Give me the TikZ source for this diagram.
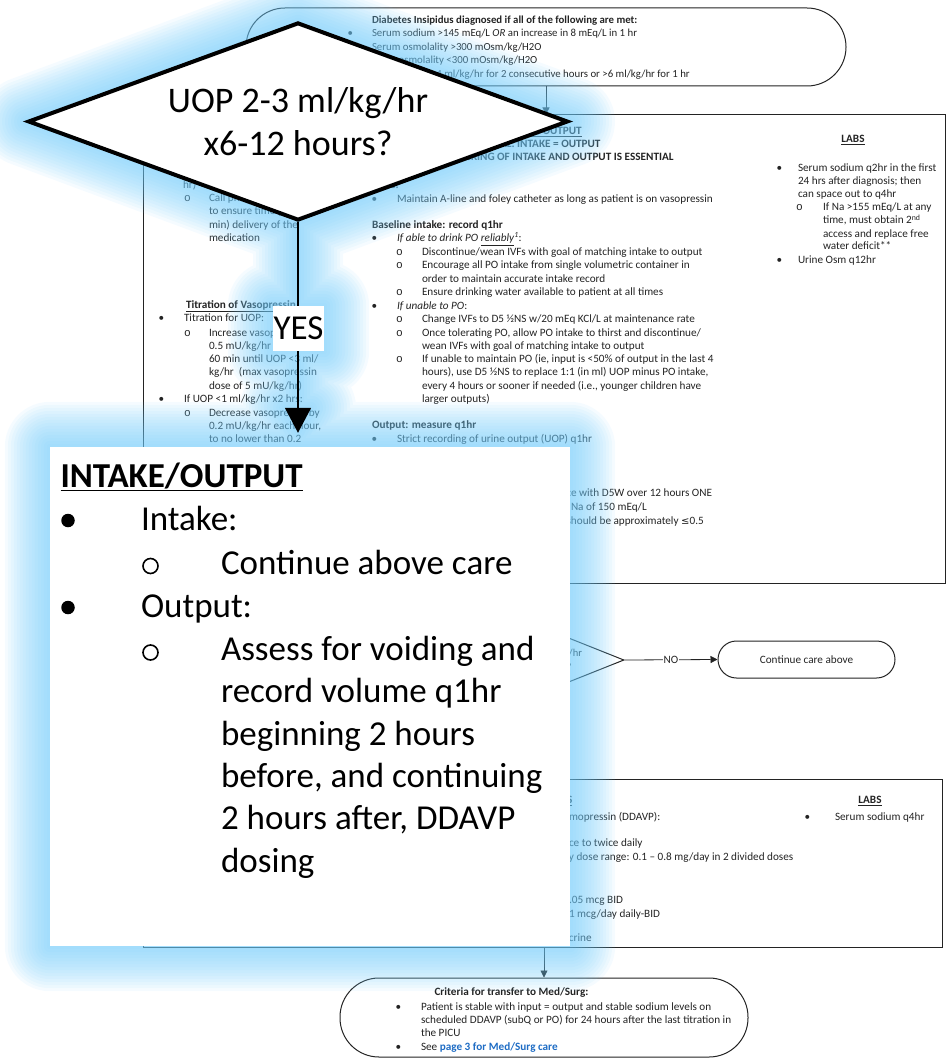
\documentclass[tikz,border=0pt]{standalone}
\usepackage{fontspec}
\setmainfont{Carlito}
\newfontfamily\cour{Liberation Mono}
\newfontfamily\djv{DejaVu Sans}
\usetikzlibrary{arrows.meta,shapes.geometric,calc}
\definecolor{ink}{RGB}{35,35,35}
\definecolor{glowblue}{RGB}{112,202,250}
\definecolor{linkblue}{RGB}{30,108,196}
\pgfdeclarelayer{under}
\pgfdeclarelayer{haze}
\pgfsetlayers{under,haze,main}

\newcommand\sm{\fontsize{11.2}{13.5}\selectfont}
\newcommand\smtop{\fontsize{10.8}{13.5}\selectfont}
\newcommand\bigtxt{\fontsize{35}{42}\selectfont}
\newcounter{tl}
% one line of text, placed by its baseline
\newcommand\tx[4][txt]{\stepcounter{tl}\node[#1] (t\arabic{tl}) at (#2,#3) {#4};}
\newcommand\bul[2]{\tx{#1}{#2}{•}}
\newcommand\subring[2]{\tx{#1}{#2}{\cour o}}

\tikzset{
  txt/.style={anchor=base west, inner sep=0, outer sep=0, text=ink, font=\sm},
  ttop/.style={txt, font=\smtop},
  txtc/.style={txt, anchor=base},
  bigt/.style={txt, text=black, font=\bigtxt},
  box/.style={draw=ink, line width=1},
  flow/.style={draw=ink, line width=0.8, -{Triangle[length=7pt,width=7pt]}},
}

\begin{document}
\begin{tikzpicture}[x=1pt,y=-1pt]
\useasboundingbox (0,0) rectangle (947,1059);

% ---------------- flowchart ----------------
\begin{pgfonlayer}{under}
\node[box, rounded corners=39, minimum width=600, minimum height=78] (dx) at (546,47) {};
\node[box, minimum width=802, minimum height=468] (mainbox) at (544,349) {};
\node[box, diamond, aspect=2.5, minimum width=160, minimum height=64, inner sep=0,
      align=center, font=\fontsize{10.5}{14}\selectfont, text=ink] (q) at (544,660)
      {UOP 2-3 ml/kg/hr\\x6-12 hours?};
\node[box, rounded corners=18.5, minimum width=177, minimum height=37, font=\sm, text=ink]
      (cont) at (806.5,659.5) {Continue care above};
\node[box, minimum width=799, minimum height=168] (lowbox) at (542.5,863) {};
\node[box, rounded corners=39, minimum width=408, minimum height=79] (crit) at (544,1017.5) {};

\draw[flow] (dx.south) -- (dx.south |- mainbox.north);
\draw[flow] (mainbox.south) -- (q.north);
\draw[flow] (q.east) -- node[fill=white, inner sep=1, font=\sm, text=ink] (nolbl) {NO} (cont.west);
\draw[flow] (q.south) -- (q.south |- lowbox.north);
\draw[flow] (crit.north |- lowbox.south) -- (crit.north);

% diagnosis criteria
\tx[ttop]{372}{23.5}{\textbf{Diabetes Insipidus diagnosed if all of the following are met:}}
\tx[ttop]{347.5}{37}{•}  \tx[ttop]{372}{37}{Serum sodium >145 mEq/L \textit{OR} an increase in 8 mEq/L in 1 hr}
\tx[ttop]{347.5}{50.5}{•}\tx[ttop]{372}{50.5}{Serum osmolality >300 mOsm/kg/H2O}
\tx[ttop]{347.5}{64}{•}  \tx[ttop]{372}{64}{Urine osmolality <300 mOsm/kg/H2O}
\tx[ttop]{347.5}{77.5}{•}\tx[ttop]{372}{77.5}{Urine output >4 ml/kg/hr for 2 consecutive hours or >6 ml/kg/hr for 1 hr}

% vasopressin column
\tx{183}{188.5}{hr)}
\subring{184}{201.5}\tx{209}{201.5}{Call pharmacy}
\tx{209}{214.5}{to ensure timely}
\tx{209}{228.5}{min) delivery of the}
\tx{209}{242}{medication}
\tx{186}{308.5}{\textbf{\underline{Titration of Vasopressin}}}
\bul{158.5}{321.5}\tx{184}{321.5}{Titration for UOP:}
\subring{184}{336.5}\tx{209}{336.5}{Increase vasopressin by}
\tx{209}{349.5}{0.5 mU/kg/hr every 30-}
\tx{209}{362.5}{60 min until UOP <3 ml/}
\tx{209}{375.5}{kg/hr\ \ (max vasopressin}
\tx{209}{389.5}{dose of 5 mU/kg/hr)}
\bul{158.5}{402.5}\tx{184}{402.5}{If UOP <1 ml/kg/hr x2 hrs:}
\subring{184}{416.5}\tx{209}{416.5}{Decrease vasopressin by}
\tx{209}{429.5}{0.2 mU/kg/hr each hour,}
\tx{209}{442.5}{to no lower than 0.2}

% intake / output column
\tx[txtc]{543}{134.5}{\textbf{\underline{INTAKE/OUTPUT}}}
\tx[txtc]{543}{147.5}{\textbf{GOAL: INTAKE = OUTPUT}}
\tx[txtc]{543}{160.5}{\textbf{STRICT TRACKING OF INTAKE AND OUTPUT IS ESSENTIAL}}
\tx{372}{188.5}{\textbf{Lines:}}
\bul{371.5}{202.5}\tx{397}{202.5}{Maintain A-line and foley catheter as long as patient is on vasopressin}
\tx{372}{228.5}{\textbf{Baseline intake: record q1hr}}
\bul{371.5}{241.5}\tx{397}{241.5}{\textit{If able to drink PO \underline{reliably}\textsuperscript{1}}:}
\subring{396}{255.5}\tx{422}{255.5}{Discontinue/wean IVFs with goal of matching intake to output}
\subring{396}{268.5}\tx{422}{268.5}{Encourage all PO intake from single volumetric container in}
\tx{422}{282.5}{order to maintain accurate intake record}
\subring{396}{295.5}\tx{422}{295.5}{Ensure drinking water available to patient at all times}
\bul{371.5}{309}\tx{397}{309}{\textit{If unable to PO}:}
\subring{396}{322.5}\tx{422}{322.5}{Change IVFs to D5 ½NS w/20 mEq KCl/L at maintenance rate}
\subring{396}{336}\tx{422}{336}{Once tolerating PO, allow PO intake to thirst and discontinue/}
\tx{422}{349.5}{wean IVFs with goal of matching intake to output}
\subring{396}{362.5}\tx{422}{362.5}{If unable to maintain PO (ie, input is <50\% of output in the last 4}
\tx{422}{375.5}{hours), use D5 ½NS to replace 1:1 (in ml) UOP minus PO intake,}
\tx{422}{389.5}{every 4 hours or sooner if needed (i.e., younger children have}
\tx{422}{402.5}{larger outputs)}
\tx{372}{428.5}{\textbf{Output: measure q1hr}}
\bul{371.5}{442.5}\tx{397}{442.5}{Strict recording of urine output (UOP) q1hr}
\tx{571}{496.5}{\llap{Free water deficit: replac}e with D5W over 12 hours ONE}
\tx{571}{510.5}{\llap{time, with a goal serum }Na of 150 mEq/L}
\tx{571}{524.5}{\llap{Sodium correction s}hould be approximately {\djv\fontsize{10}{13}\selectfont ≤}0.5}

% labs column
\tx[txtc]{853}{142.5}{\textbf{\underline{LABS}}}
\bul{776.5}{171.5}\tx{798}{171.5}{Serum sodium q2hr in the first}
\tx{798}{184.5}{24 hrs after diagnosis; then}
\tx{798}{197.5}{can space out to q4hr}
\subring{796}{210.5}\tx{823}{210.5}{If Na >155 mEq/L at any}
\tx{823}{224}{time, must obtain 2\textsuperscript{nd}}
\tx{823}{237}{access and replace free}
\tx{823}{250}{water deficit**}
\bul{776.5}{263.5}\tx{798}{263.5}{Urine Osm q12hr}

% DDAVP box
\tx{567}{803.5}{\llap{\textbf{\underline{MEDICATION}}}\textbf{\underline{S}}}
\tx{569}{820.5}{\llap{Des}mopressin (DDAVP):}
\tx{569}{846.5}{\llap{PO: on}ce to twice daily}
\tx{569}{860.5}{\llap{Usual dail}y dose range: 0.1 – 0.8 mg/day in 2 divided doses}
\tx{569}{903.5}{\llap{SubQ: 0}.05 mcg BID}
\tx{569}{917.5}{\llap{Range: 0.1 -- }1 mcg/day daily-BID}
\tx{569}{941.5}{\llap{Consult Endo}crine}
\tx[txtc]{870}{803.5}{\textbf{\underline{LABS}}}
\bul{804.5}{820.5}\tx{835}{820.5}{Serum sodium q4hr}

% transfer criteria
\tx[txtc]{511.5}{995.5}{\textbf{Criteria for transfer to Med/Surg:}}
\bul{395.5}{1010.5}\tx{421}{1010.5}{Patient is stable with input = output and stable sodium levels on}
\tx{421}{1023.5}{scheduled DDAVP (subQ or PO) for 24 hours after the last titration in}
\tx{421}{1036.5}{the PICU}
\bul{395.5}{1050.5}\tx{421}{1050.5}{See \textcolor{linkblue}{\textbf{page 3 for Med/Surg care}}}
\end{pgfonlayer}

% ---------------- enlarged callout ----------------
\node[diamond, draw=black, line width=4, fill=white, aspect=2.727, minimum width=540,
      minimum height=198, inner sep=0, align=center, font=\fontsize{36}{43}\selectfont]
      (big) at (298,121.5) {UOP 2-3 ml/kg/hr\\x6-12 hours?};
\node[fill=white, minimum width=520, minimum height=499, inner sep=0] (iobox) at (310,696.5) {};
\coordinate (tip) at ($(big.south |- iobox.north)+(0,-14)$);
\draw[black, line width=1.5, shorten >=14pt, -{Triangle[length=25pt,width=26pt]}]
      (big.south) -- (big.south |- iobox.north);
\node[fill=white, minimum width=51, minimum height=45, inner sep=0,
      font=\fontsize{35}{40}\selectfont] (yes) at (298.5,328.5) {YES};

\tx[bigt]{60.5}{487.5}{\textbf{\underline{INTAKE/OUTPUT}}}
\node[circle, fill=black, inner sep=0, minimum size=13.5] (dot1) at (68,520.5) {};
\tx[bigt]{141}{530}{Intake:}
\node[circle, draw=black, line width=1.6, inner sep=0, minimum size=15] (ring1) at (150.5,566) {};
\tx[bigt]{221}{574}{Continue above care}
\node[circle, fill=black, inner sep=0, minimum size=13.5] (dot2) at (68,607.5) {};
\tx[bigt]{141}{617}{Output:}
\node[circle, draw=black, line width=1.6, inner sep=0, minimum size=15] (ring2) at (150.5,652.5) {};
\tx[bigt]{221}{660}{Assess for voiding and}
\tx[bigt]{221}{702.5}{record volume q1hr}
\tx[bigt]{221}{745}{beginning 2 hours}
\tx[bigt]{221}{787.5}{before, and continuing}
\tx[bigt]{221}{829.5}{2 hours after, DDAVP}
\tx[bigt]{221}{872}{dosing}

% soft glow around the callout
\begin{pgfonlayer}{haze}
\foreach \d in {3,6,...,45}{
  \path[draw=glowblue, draw opacity=0.066, line width=2*\d, line join=round, line cap=round]
    (big.west) -- (big.north) -- (big.east) -- (big.south) -- cycle
    (big.south) -- (tip)
    (yes.south west) rectangle (yes.north east)
    ($(tip)+(-13,-25)$) -- ($(tip)+(13,-25)$) -- (tip) -- cycle
    (iobox.south west) rectangle (iobox.north east);
}
\end{pgfonlayer}
\end{tikzpicture}
\end{document}
